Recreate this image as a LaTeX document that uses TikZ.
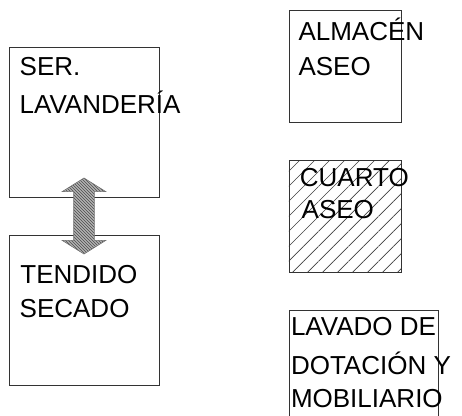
\documentclass[tikz,border=0pt]{standalone}
\usepackage{fontspec}
\setmainfont{Liberation Sans}
\usetikzlibrary{calc,shapes.arrows,patterns,patterns.meta}
\tikzset{
  room/.style={draw=black!80, line width=0.8pt, inner sep=0pt},
  txt/.style={anchor=base west, inner sep=0pt, font=\fontsize{26}{30}\selectfont},
  flow/.style={double arrow, rotate=90, draw=black!55, line width=0.6pt,
    minimum height=76pt, inner xsep=0pt, inner ysep=10pt,
    double arrow head extend=11.5pt, double arrow tip angle=116,
    preaction={fill=gray!60}, pattern=north west lines, pattern color=black!70},
  hatch/.style={pattern={Lines[angle=45,distance=10.6pt,line width=0.6pt]}, pattern color=black!75},
}
\begin{document}
\begin{tikzpicture}[x=1pt,y=-1pt]
\useasboundingbox (0,0) rectangle (462,415);
% left column
\node[room, minimum width=150pt, minimum height=150pt] (lav) at (84,122) {};
\node[room, minimum width=150pt, minimum height=150pt] (ten) at (84,310) {};
\node[flow] (dbl) at ($(lav.south)!0.5!(ten.north)$) {};
\node[txt] (lav1) at (19.5,75) {SER.};
\node[txt] (lav2) at (19.5,113.3) {LAVANDERÍA};
\node[txt] (ten1) at (20.2,283.3) {TENDIDO};
\node[txt] (ten2) at (19.5,317.7) {SECADO};
% right column
\node[room, minimum width=112.7pt, minimum height=111.6pt] (alm) at (345.3,66.5) {};
\node[room, hatch, minimum width=112.7pt, minimum height=112.3pt] (cua) at (345.3,216.2) {};
\node[room, minimum width=149.3pt, minimum height=250pt] (lvd) at (363.65,435) {};
\node[txt] (alm1) at (298.3,40.7) {ALMACÉN};
\node[txt] (alm2) at (298.3,75) {ASEO};
\node[txt] (cua1) at (299.7,186.7) {CUARTO};
\node[txt] (cua2) at (301.5,218.3) {ASEO};
\node[txt] (lvd1) at (290.8,335) {LAVADO DE};
\node[txt] (lvd2) at (290.8,374) {DOTACIÓN Y};
\node[txt] (lvd3) at (290.8,407) {MOBILIARIO};
\end{tikzpicture}
\end{document}
